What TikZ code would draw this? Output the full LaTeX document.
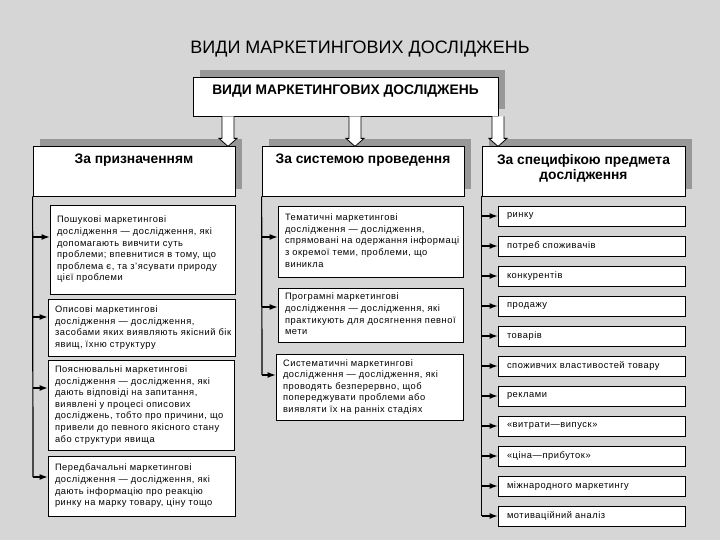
\documentclass[tikz,border=0pt]{standalone}
\usepackage{fontspec}
\setmainfont{Liberation Sans}
\newfontfamily\boxfont{Liberation Sans}[LetterSpace=6]
\usetikzlibrary{arrows.meta,shadows}
\definecolor{paper}{RGB}{214,214,214}
\definecolor{shade}{RGB}{152,152,152}
\newcommand\rows[1]{\begin{tabular}{@{}l@{}}#1\end{tabular}}
\tikzset{
  shadowbox/.style={draw=black,line width=.8pt,fill=white,inner sep=0pt,
    drop shadow={shadow xshift=7pt,shadow yshift=7pt,fill=shade,opacity=1}},
  headtext/.style={anchor=north,inner sep=0pt,align=center,font=\bfseries\fontsize{13.8}{15}\selectfont},
  descbox/.style={draw=black,line width=.8pt,fill=white,inner xsep=7pt,inner ysep=0pt,align=left,
    font=\boxfont\fontsize{9.3}{11.6}\selectfont},
  itembox/.style={descbox,inner xsep=9pt,text width=169pt,minimum height=20pt},
  spine/.style={line width=1.2pt},
  feed/.style={line width=1.2pt,-{Latex[length=8pt,width=6pt]}},
  blockdown/.pic={\draw[line width=.8pt,fill=white] (-6,0) -- (-6,22) -- (-9,22) -- (0,30) -- (9,22) -- (6,22) -- (6,0);}
}

\begin{document}
\begin{tikzpicture}[x=1pt,y=-1pt]
  \fill[paper] (0,0) rectangle (720,540);
  \useasboundingbox (0,0) rectangle (720,540);
  \node[font=\fontsize{18}{20}\selectfont] (ttl) at (360,49) {ВИДИ МАРКЕТИНГОВИХ ДОСЛІДЖЕНЬ};
  % head and the three groups
  \node[shadowbox,minimum width=305pt,minimum height=39pt,
    label={[headtext,yshift=-8pt]north:ВИДИ МАРКЕТИНГОВИХ ДОСЛІДЖЕНЬ}] (top) at (345.5,96.5) {};
  \node[shadowbox,minimum width=202pt,minimum height=50pt,label={[headtext,yshift=-8.5pt]north:За призначенням}] (cat1) at (134,171) {};
  \node[shadowbox,minimum width=202pt,minimum height=50pt,label={[headtext,yshift=-8.5pt]north:За системою проведення}] (cat2) at (363,171) {};
  \node[shadowbox,minimum width=203pt,minimum height=50pt,label={[headtext,yshift=-8.5pt]north:За специфікою предмета\\дослідження}] (cat3) at (583.5,171) {};
  \foreach \x in {228,355,498} \pic at (\x,116.4) {blockdown};
  % first column
  \node[descbox,text width=171pt,minimum height=89pt] (pA) at (142.5,249.5) {\rows{Пошукові маркетингові\\дослідження — дослідження, які\\допомагають вивчити суть\\проблеми; впевнитися в тому, що\\проблема є, та з’ясувати природу\\цієї проблеми}};
  \node[descbox,text width=173pt,minimum height=57pt] (pB) at (141.5,327.5) {\rows{Описові маркетингові\\дослідження — дослідження,\\засобами яких виявляють якісний бік\\явищ, їхню структуру}};
  \node[descbox,text width=172pt,minimum height=90pt] (pC) at (141,405) {\rows{Пояснювальні маркетингові\\дослідження — дослідження, які\\дають відповіді на запитання,\\виявлені у процесі описових\\досліджень, тобто про причини, що\\привели до певного якісного стану\\або структури явища}};
  \node[descbox,text width=173pt,minimum height=60pt] (pD) at (141.5,486) {\rows{Передбачальні маркетингові\\дослідження — дослідження, які\\дають інформацію про реакцію\\ринку на марку товару, ціну тощо}};
  \foreach \n/\y in {pA/237,pB/317,pC/388,pD/477} {
    \coordinate (s\n) at (33,\y);
    \draw[feed] (s\n) -- (s\n -| \n.west);
  }
  \draw[spine] (cat1.south west) -- (spD);
  % second column
  \node[descbox,text width=171pt,minimum height=71pt] (pE) at (370.5,241.5) {\rows{Тематичні маркетингові\\дослідження — дослідження,\\спрямовані на одержання інформаці\\з окремої теми, проблеми, що\\виникла}};
  \node[descbox,text width=171pt,minimum height=54pt] (pF) at (370.5,315) {\rows{Програмні маркетингові\\дослідження — дослідження, які\\практикують для досягнення певної\\мети}};
  \node[descbox,text width=173pt,minimum height=66pt] (pG) at (369.5,387) {\rows{Систематичні маркетингові\\дослідження — дослідження, які\\проводять безперервно, щоб\\попереджувати проблеми або\\виявляти їх на ранніх стадіях}};
  \foreach \n/\y in {pE/237,pF/307,pG/375} {
    \coordinate (s\n) at (262,\y);
    \draw[feed] (s\n) -- (s\n -| \n.west);
  }
  \draw[spine] (cat2.south west) -- (spG);
  % third column
  \foreach \t [count=\i] in {ринку,потреб споживачів,конкурентів,продажу,товарів,споживчих властивостей товару,реклами,«витрати—випуск»,«ціна—прибуток»,міжнародного маркетингу,мотиваційний аналіз} {
    \node[itembox] (it\i) at (591.5,{186+30*\i}) {\t};
    \draw[feed] (cat3.south west |- it\i) -- (it\i.west);
  }
  \draw[spine] (cat3.south west) -- (cat3.south west |- it11);
\end{tikzpicture}
\end{document}
